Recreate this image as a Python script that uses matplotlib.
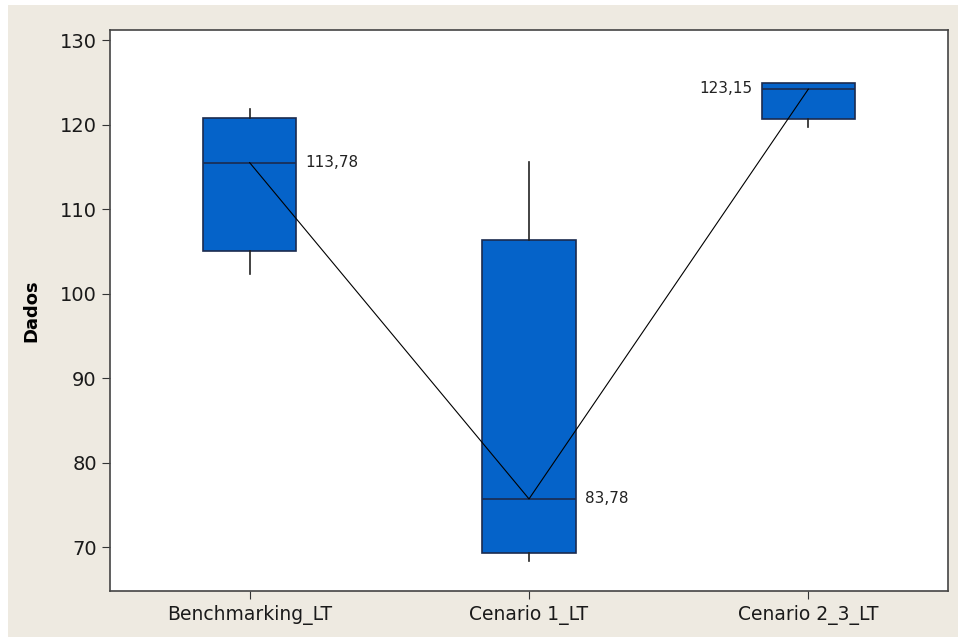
# Minitab-style boxplot of lead times with connected medians
import matplotlib.pyplot as plt
from matplotlib.patches import Rectangle

# data
categories = ["Benchmarking_LT", "Cenario 1_LT", "Cenario 2_3_LT"]
whisker_low = [102.3, 68.3, 119.7]
q1 = [105.1, 69.3, 120.7]
median = [115.5, 75.7, 124.2]
q3 = [120.8, 106.3, 124.9]
whisker_high = [121.9, 115.6, 124.9]
labels = ["113,78", "83,78", "123,15"]

stats = []
for i, name in enumerate(categories):
    stats.append({"label": name, "whislo": whisker_low[i], "q1": q1[i],
                  "med": median[i], "q3": q3[i], "whishi": whisker_high[i],
                  "fliers": []})

fig = plt.figure(figsize=(9.58, 6.37), dpi=100, facecolor="white")
# beige panel behind the plot
bg = Rectangle((8 / 958, 0), 1, 632 / 637, transform=fig.transFigure,
               facecolor="#EEEAE1", edgecolor="none", zorder=-10)
fig.add_artist(bg)

ax = fig.add_axes([110 / 958, 1 - 591 / 637, (948 - 110) / 958, (591 - 30) / 637])
ax.set_zorder(5)
ax.set_facecolor("white")

pos = [1, 2, 3]
ax.bxp(stats, positions=pos, widths=0.334, patch_artist=True, showcaps=False,
       boxprops=dict(facecolor="#0563C9", edgecolor="#1B2B4F", linewidth=1.2),
       medianprops=dict(color="#1B2B4F", linewidth=1.2),
       whiskerprops=dict(color="#222222", linewidth=1.2))

# line through medians
ax.plot(pos, median, color="black", linewidth=0.8, zorder=5)

# value labels
ax.text(pos[0] + 0.2, median[0], labels[0], fontsize=11, va="center", ha="left", color="#222222")
ax.text(pos[1] + 0.2, median[1], labels[1], fontsize=11, va="center", ha="left", color="#222222")
ax.text(pos[2] - 0.2, median[2] + 0.1, labels[2], fontsize=11, va="center", ha="right", color="#222222")

ax.set_xlim(0.5, 3.5)
ax.set_ylim(64.8, 131.2)
ax.set_yticks([70, 80, 90, 100, 110, 120, 130])
ax.set_xticks(pos)
ax.set_xticklabels(categories)
ax.tick_params(axis="y", labelsize=14, length=6, color="#333333", labelcolor="#1a1a1a")
ax.tick_params(axis="x", labelsize=13.5, length=6, color="#333333", pad=4, labelcolor="#1a1a1a")
for s in ax.spines.values():
    s.set_color("#444444")
    s.set_linewidth(1.2)

ax.set_ylabel("Dados", fontsize=13, fontweight="bold", labelpad=14)

fig.savefig("out.png", dpi=100, facecolor=fig.get_facecolor())
